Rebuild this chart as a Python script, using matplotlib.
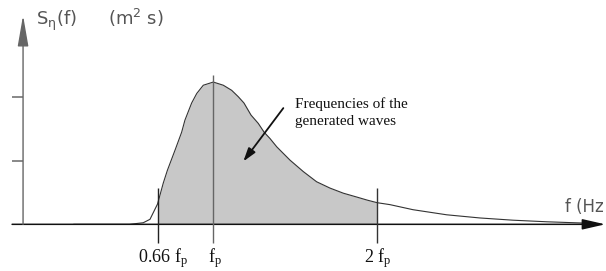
import numpy as np
import matplotlib
matplotlib.use("Agg")
import matplotlib.pyplot as plt

plt.rcParams['mathtext.default'] = 'regular'

# spectrum, f in units of f_p, S in tick units
f_pts = [0.15, 0.49, 0.573, 0.614, 0.66, 0.695, 0.72, 0.767, 0.807, 0.827, 0.868,
         0.899, 0.939, 1.0, 1.061, 1.112, 1.152, 1.187, 1.23, 1.274, 1.31, 1.346,
         1.387, 1.468, 1.549, 1.630, 1.712, 1.793, 1.874, 1.94, 2.0, 2.077, 2.218,
         2.423, 2.626, 2.827, 3.033, 3.277, 3.33]
S_pts = [0.0, 0.0, 0.025, 0.079, 0.32, 0.65, 0.85, 1.17, 1.45, 1.64, 1.91,
         2.06, 2.19, 2.24, 2.19, 2.11, 2.01, 1.91, 1.72, 1.59, 1.45, 1.35,
         1.22, 1.01, 0.83, 0.67, 0.57, 0.49, 0.43, 0.38, 0.34, 0.31, 0.23,
         0.15, 0.10, 0.065, 0.04, 0.018, 0.014]

band = [0.66, 2.0]           # generated waves band
mark_pos = [0.66, 1.0, 2.0]
mark_labels = ['0.66 f$_p$', 'f$_p$', '2 f$_p$']
mark_top = [0.57, 2.35, 0.57]
ytick_pos = [1, 2]

f = np.array(f_pts)
S = np.array(S_pts)

fig = plt.figure(figsize=(6.06, 2.71), dpi=100)
ax = fig.add_axes([0, 0, 1, 1])
ax.set_xlim(-0.3006, 3.3945)
ax.set_ylim(-0.735, 3.532)
ax.axis('off')

x_axis = -0.16     # where the vertical axis stands
gray_txt = '#555555'

# shaded band + curve
mask = (f >= band[0]) & (f <= band[1])
ax.fill_between(f, 0, S, where=mask, color='#c8c8c8', lw=0, zorder=1)
ax.plot(f, S, color='#333333', lw=0.8, zorder=3)

# axes with arrows
ax.annotate('', xy=(3.39, 0), xytext=(-0.227, 0),
            arrowprops=dict(arrowstyle='-|>,head_length=1.4,head_width=0.32',
                            color='#111111', lw=1.1, shrinkA=0, shrinkB=0), zorder=4)
ax.annotate('', xy=(x_axis, 3.29), xytext=(x_axis, 0),
            arrowprops=dict(arrowstyle='-|>,head_length=1.9,head_width=0.33',
                            color='#666666', lw=1.0, shrinkA=0, shrinkB=0), zorder=4)
ax.hlines(ytick_pos, -0.227, x_axis, color='#888888', lw=1.4)

# marks at 0.66 fp, fp, 2 fp
ax.vlines(mark_pos, -0.29, mark_top, colors=['#222222', '#666666', '#333333'], lw=1.0, zorder=4)
for pos, lab, dx in zip(mark_pos, mark_labels, [0.036, 0.013, 0.004]):
    ax.text(pos + dx, -0.594, lab, family='Liberation Serif', fontsize=13,
            ha='center', va='baseline', color='#111111')

# axis titles
ax.text(-0.081, 3.14, r'S$_\eta$(f)', fontsize=13, color=gray_txt, va='baseline', ha='left')
ax.text(0.358, 3.14, '(m$^2$ s)', fontsize=13, color=gray_txt, va='baseline', ha='left')
ax.text(3.145, 0.2, 'f (Hz', fontsize=12, color=gray_txt, va='baseline', ha='left')

# annotation
ax.text(1.5, 1.56, 'Frequencies of the\ngenerated waves', family='Liberation Serif',
        fontsize=11, ha='left', va='baseline', linespacing=1.45, color='#111111')
ax.annotate('', xy=(1.183, 0.99), xytext=(1.427, 1.83),
            arrowprops=dict(arrowstyle='-|>,head_length=0.8,head_width=0.25',
                            color='#111111', lw=1.3, shrinkA=0, shrinkB=0),
            zorder=5)

fig.savefig('out.png', dpi=100)
